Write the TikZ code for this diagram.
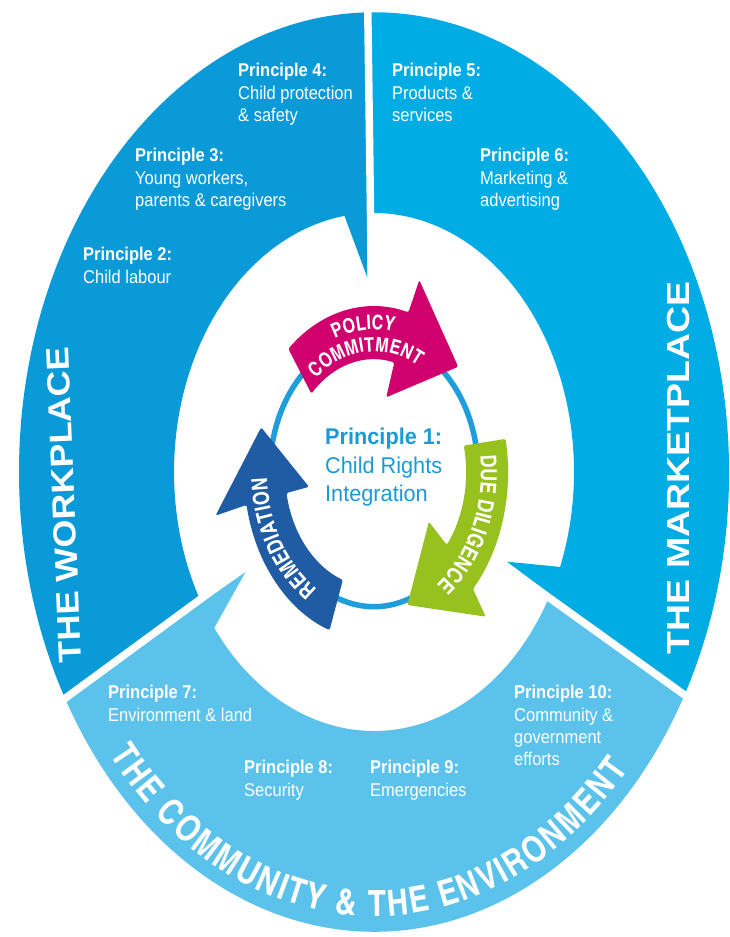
\documentclass[tikz,border=0pt]{standalone}
\usepackage{fontspec}
\setmainfont{Liberation Sans}
\newfontfamily\cnfont{texgyreheroscn}[Extension=.otf,UprightFont=*-regular,BoldFont=*-bold]
\usetikzlibrary{decorations.text}
\definecolor{work}{HTML}{0A9AD8}
\definecolor{market}{HTML}{00ACE4}
\definecolor{commun}{HTML}{5AC2EB}
\definecolor{ringc}{HTML}{1E9FDB}
\definecolor{policyc}{HTML}{D0006F}
\definecolor{duec}{HTML}{97C11F}
\definecolor{remc}{HTML}{1F5CA3}
\definecolor{ponec}{HTML}{1A9AD6}
\begin{document}
\begin{tikzpicture}[x=1pt,y=1pt,
  lbl/.style={anchor=north west,inner sep=0pt,text=white,align=left,yscale=1.12,font=\fontsize{16.5}{20}\selectfont},
  bigword/.style={inner sep=0pt,text=white,font=\fontsize{32}{32}\selectfont\bfseries}]
\useasboundingbox (0,0) rectangle (729,-937);
\fill[white] (0,0) rectangle (729,-937);
\begin{scope}[shift={(374,-472)},yscale=1.295]
  % outer segments
  \fill[work] (91:355) arc[start angle=91,end angle=209.5,radius=355] -- (209.5:200)
     arc[start angle=209.5,end angle=98.5,radius=200] -- (92.5:150) -- cycle;
  \fill[market] (-29:355) arc[start angle=-29,end angle=91,radius=355] -- (91:200)
     arc[start angle=91,end angle=-21.5,radius=200] -- (-27.5:150) -- cycle;
  \fill[commun] (209.5:355) arc[start angle=209.5,end angle=331,radius=355] -- (331:200)
     arc[start angle=331,end angle=217,radius=200] -- (211:150) -- cycle;
  \foreach \a in {91,209.5,331} \draw[white,line width=7.5pt] (\a:140) -- (\a:370);
  % inner ring
  \draw[ringc,line width=5.5pt] (0,0) circle[radius=104];
  % cycle arrows
  \fill[policyc,rounded corners=1.5pt] (132:128) arc[start angle=132,end angle=74.4,radius=128] -- (73:155) -- (44:117)
     -- (78:59) -- (76.5:87) arc[start angle=76.5,end angle=136,radius=87] -- cycle;
  \fill[duec,rounded corners=1.5pt] (11:134) arc[start angle=11,end angle=-42.4,radius=134] -- (-45:158) -- (-72:108)
     -- (-35:67) -- (-37.7:92) arc[start angle=-37.7,end angle=12.8,radius=92] -- cycle;
  \fill[remc,rounded corners=1.5pt] (250:130) arc[start angle=250,end angle=191.3,radius=130] -- (192:162) -- (163:118)
     -- (190:66) -- (190.5:89) arc[start angle=190.5,end angle=249.5,radius=89] -- cycle;
  % texts on arrows
  \path[decorate,decoration={text along path,text align=center,text color=white,
     text={|\cnfont\bfseries\fontsize{20}{20}\selectfont|POLICY}}]
     (125:110) arc[start angle=125,end angle=65,radius=110];
  \path[decorate,decoration={text along path,text align=center,text color=white,
     text={|\cnfont\bfseries\fontsize{20}{20}\selectfont|COMMITMENT}}]
     (140:93) arc[start angle=140,end angle=50,radius=93];
  \path[decorate,decoration={text along path,text align=center,text color=white,
     text={|\cnfont\bfseries\fontsize{22}{22}\selectfont|DUE DILIGENCE}}]
     (20:107) arc[start angle=20,end angle=-70,radius=107];
  \path[decorate,decoration={text along path,text align=center,text color=white,
     text={|\cnfont\bfseries\fontsize{22}{22}\selectfont|REMEDIATION}}]
     (257:107) arc[start angle=257,end angle=167,radius=107];
  % community title
  \path[decorate,decoration={text along path,text align=fit to path,text color=white,
     text={|\cnfont\bfseries\fontsize{36}{36}\selectfont|THE COMMUNITY {\&} THE ENVIRONMENT}}]
     (219.5:343) arc[start angle=219.5,end angle=318,radius=343];
\end{scope}
% section titles
\node[bigword,rotate=92.5,xscale=1.12] (wp) at (64,-505) {THE WORKPLACE};
\node[bigword,rotate=90,xscale=1.17] (mp) at (678,-468) {THE MARKETPLACE};
% principle labels
\node[lbl] (p4) at (238,-63) {\textbf{Principle 4:}\\Child protection\\\& safety};
\node[lbl] (p3) at (135,-148) {\textbf{Principle 3:}\\Young workers,\\parents \& caregivers};
\node[lbl] (p2) at (83,-247) {\textbf{Principle 2:}\\Child labour};
\node[lbl] (p5) at (392,-63) {\textbf{Principle 5:}\\Products \&\\services};
\node[lbl] (p6) at (480,-148) {\textbf{Principle 6:}\\Marketing \&\\advertising};
\node[lbl] (p7) at (108,-685) {\textbf{Principle 7:}\\Environment \& land};
\node[lbl] (p8) at (244,-760) {\textbf{Principle 8:}\\Security};
\node[lbl] (p9) at (370,-760) {\textbf{Principle 9:}\\Emergencies};
\node[lbl] (p10) at (514,-685) {\textbf{Principle 10:}\\Community \&\\government\\efforts};
\node[anchor=north west,inner sep=0pt,text=ponec,align=left,yscale=1.05,font=\fontsize{21.7}{27}\selectfont] (p1) at (325,-428)
  {\textbf{Principle 1:}\\Child Rights\\Integration};
\end{tikzpicture}
\end{document}
